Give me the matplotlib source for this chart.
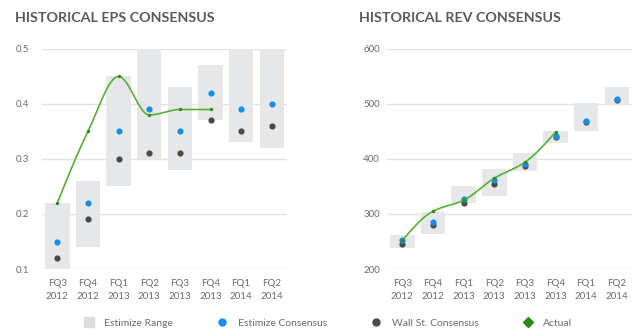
import matplotlib.pyplot as plt
import numpy as np
from matplotlib.lines import Line2D

plt.rcParams['font.family'] = ['Lato', 'DejaVu Sans']

quarters = ['FQ3\n2012', 'FQ4\n2012', 'FQ1\n2013', 'FQ2\n2013',
            'FQ3\n2013', 'FQ4\n2013', 'FQ1\n2014', 'FQ2\n2014']

# EPS
eps_low = [0.10, 0.14, 0.25, 0.30, 0.28, 0.37, 0.33, 0.32]
eps_high = [0.22, 0.26, 0.45, 0.50, 0.43, 0.47, 0.50, 0.50]
eps_estimize = [0.15, 0.22, 0.35, 0.39, 0.35, 0.42, 0.39, 0.40]
eps_wallst = [0.12, 0.19, 0.30, 0.31, 0.31, 0.37, 0.35, 0.36]
eps_actual = [0.22, 0.35, 0.45, 0.38, 0.39, 0.39]

# Revenue
rev_low = [238, 264, 320, 333, 378, 429, 451, 498]
rev_high = [262, 304, 351, 382, 411, 451, 502, 531]
rev_estimize = [253, 286, 327, 362, 391, 442, 469, 509]
rev_wallst = [245, 280, 320, 355, 387, 440, 468, 508]
rev_actual = [252, 305, 325, 365, 394, 449]

RANGE_C = '#e6e7e9'
BLUE = '#1a8ee6'
DARK = '#4a4a4a'
GREEN = '#55b033'
GREEN_DOT = '#2d8a17'
TEXT_C = '#6b6b6b'


def pchip_curve(y):
    """Monotone cubic through the points (rendering of the spline line only)."""
    y = np.asarray(y, float)
    x = np.arange(len(y), dtype=float)
    d = np.diff(y)
    m = np.zeros_like(y)
    for i in range(1, len(y) - 1):
        if d[i - 1] * d[i] > 0:
            m[i] = 2 * d[i - 1] * d[i] / (d[i - 1] + d[i])
    m[0] = (3 * d[0] - m[1]) / 2 if len(y) > 2 else d[0]
    m[-1] = (3 * d[-1] - m[-2]) / 2 if len(y) > 2 else d[-1]
    if m[0] * d[0] <= 0:
        m[0] = 0
    if m[-1] * d[-1] <= 0:
        m[-1] = 0
    xs, ys = [], []
    for i in range(len(y) - 1):
        t = np.linspace(0, 1, 30)
        h00 = 2 * t**3 - 3 * t**2 + 1
        h10 = t**3 - 2 * t**2 + t
        h01 = -2 * t**3 + 3 * t**2
        h11 = t**3 - t**2
        xs.append(x[i] + t)
        ys.append(h00 * y[i] + h10 * m[i] + h01 * y[i + 1] + h11 * m[i + 1])
    return np.concatenate(xs), np.concatenate(ys)


def draw_panel(ax, low, high, estimize, wallst, actual, ylim, yticks, fmt, pad):
    x = np.arange(len(quarters))
    ax.bar(x, np.array(high) - np.array(low), bottom=low, width=0.8,
           color=RANGE_C, zorder=1)
    ax.scatter(x, wallst, s=20, color=DARK, zorder=3, linewidths=0)
    ax.scatter(x, estimize, s=20, color=BLUE, zorder=4, linewidths=0)
    cx, cy = pchip_curve(actual)
    ax.plot(cx, cy, color=GREEN, lw=1.2, zorder=5)
    ax.scatter(np.arange(len(actual)), actual, s=6, color=GREEN_DOT,
               zorder=6, linewidths=0)
    ax.set_xlim(-0.5, len(quarters) - 0.5)
    ax.set_ylim(*ylim)
    ax.set_yticks(yticks)
    ax.set_yticklabels([fmt(v) for v in yticks])
    ax.set_xticks(x)
    ax.set_xticklabels(quarters, linespacing=1.6)
    for s in ax.spines.values():
        s.set_visible(False)
    ax.yaxis.grid(True, color='#e2e2e2', lw=1, zorder=0)
    ax.set_axisbelow(True)
    ax.tick_params(axis='y', length=0, pad=pad, labelsize=7, labelcolor=TEXT_C)
    ax.tick_params(axis='x', length=0, pad=7, labelsize=7, labelcolor=TEXT_C)


fig = plt.figure(figsize=(6.4, 3.36), dpi=100)
ax1 = fig.add_axes([0.0656, 0.1994, 0.383, 0.6548])
ax2 = fig.add_axes([0.6047, 0.1994, 0.383, 0.6548])

draw_panel(ax1, eps_low, eps_high, eps_estimize, eps_wallst, eps_actual,
           (0.1, 0.5), [0.1, 0.2, 0.3, 0.4, 0.5], lambda v: f'{v:.1f}', 9)
draw_panel(ax2, rev_low, rev_high, rev_estimize, rev_wallst, rev_actual,
           (200, 600), [200, 300, 400, 500, 600], lambda v: f'{v:.0f}', 5)

fig.text(15 / 640, 1 - 18 / 336, 'HISTORICAL EPS CONSENSUS', fontsize=10.3,
         fontweight='bold', color='#5a5a5a', va='center', ha='left')
fig.text(359 / 640, 1 - 18 / 336, 'HISTORICAL REV CONSENSUS', fontsize=10.3,
         fontweight='bold', color='#5a5a5a', va='center', ha='left')

handles = [
    Line2D([], [], ls='none', marker='s', ms=7, color='#dcdde0'),
    Line2D([], [], ls='none', marker='o', ms=5, color=BLUE),
    Line2D([], [], ls='none', marker='o', ms=5, color=DARK),
    Line2D([], [], ls='none', marker='D', ms=5, color=GREEN_DOT),
]
labels = ['Estimize Range', 'Estimize Consensus', 'Wall St. Consensus', 'Actual']
fig.legend(handles, labels, loc='center', bbox_to_anchor=(0.5125, 1 - 323 / 336),
           ncol=4, frameon=False, fontsize=7.5, labelcolor=TEXT_C,
           handletextpad=1.0, columnspacing=4.2, handlelength=1.0)

fig.savefig('out.png', dpi=100)
